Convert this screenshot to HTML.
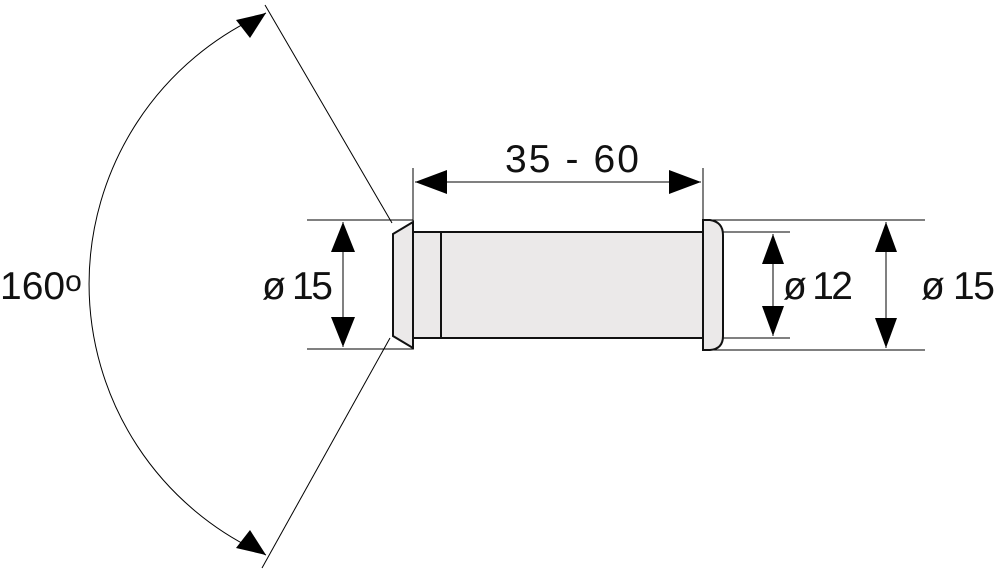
<!DOCTYPE html>
<html><head><style>body{margin:0;background:#fff}svg{display:block}</style></head><body>
<svg width="1000" height="573" viewBox="0 0 1000 573" xmlns="http://www.w3.org/2000/svg">
<g stroke="#000" stroke-width="1" fill="none">
<line x1="392" y1="223" x2="265" y2="5"/>
<line x1="390" y1="338" x2="262" y2="568"/>
<path d="M266,13 A296,296 0 0 0 266,555"/>
<line x1="307" y1="220" x2="413" y2="220"/>
<line x1="307" y1="349" x2="413" y2="349"/>
<line x1="413" y1="168" x2="413" y2="222"/>
<line x1="703" y1="168" x2="703" y2="220"/>
<line x1="705" y1="220" x2="925" y2="220"/>
<line x1="705" y1="350" x2="925" y2="350"/>
<line x1="723" y1="232" x2="790" y2="232"/>
<line x1="723" y1="338" x2="790" y2="338"/>
<line x1="343" y1="222" x2="343" y2="347"/>
<line x1="415" y1="182" x2="701" y2="182"/>
<line x1="773" y1="234" x2="773" y2="336"/>
<line x1="886" y1="222" x2="886" y2="348"/>
</g>
<g fill="#000">
<path d="M343,222 L331,252 L355,252z"/><path d="M343,347 L331,317 L355,317z"/>
<path d="M415,182 L447,170 L447,194z"/><path d="M701,182 L669,170 L669,194z"/>
<path d="M773,234 L762,264 L784,264z"/><path d="M773,336 L762,306 L784,306z"/>
<path d="M886,222 L875,252 L897,252z"/><path d="M886,348 L875,318 L897,318z"/>
<path d="M266,13 L236,20 L250,38z"/><path d="M266,555 L236,548 L250,530z"/>
</g>
<g stroke="#111" stroke-width="2" fill="#ebe9e9">
<path d="M393,234 L413,222 L413,348 L393,336 Z"/>
<rect x="413" y="232" width="28" height="106"/>
<rect x="441" y="232" width="262" height="106"/>
<path d="M703,220 L710,220 Q723,222 723,235 L723,336 Q723,349 710,350 L703,350 Z"/>
</g>
<g font-family="Liberation Sans, sans-serif" font-size="39" fill="#111">
<text x="572" y="172" text-anchor="middle" textLength="134">35 - 60</text>
<text x="0" y="299">160<tspan font-size="30" dy="-8">o</tspan></text>
<text x="262" y="299" textLength="71">ø 15</text>
<text x="783" y="299" textLength="70">ø 12</text>
<text x="921" y="299" textLength="74">ø 15</text>
</g>
</svg>
</body></html>
